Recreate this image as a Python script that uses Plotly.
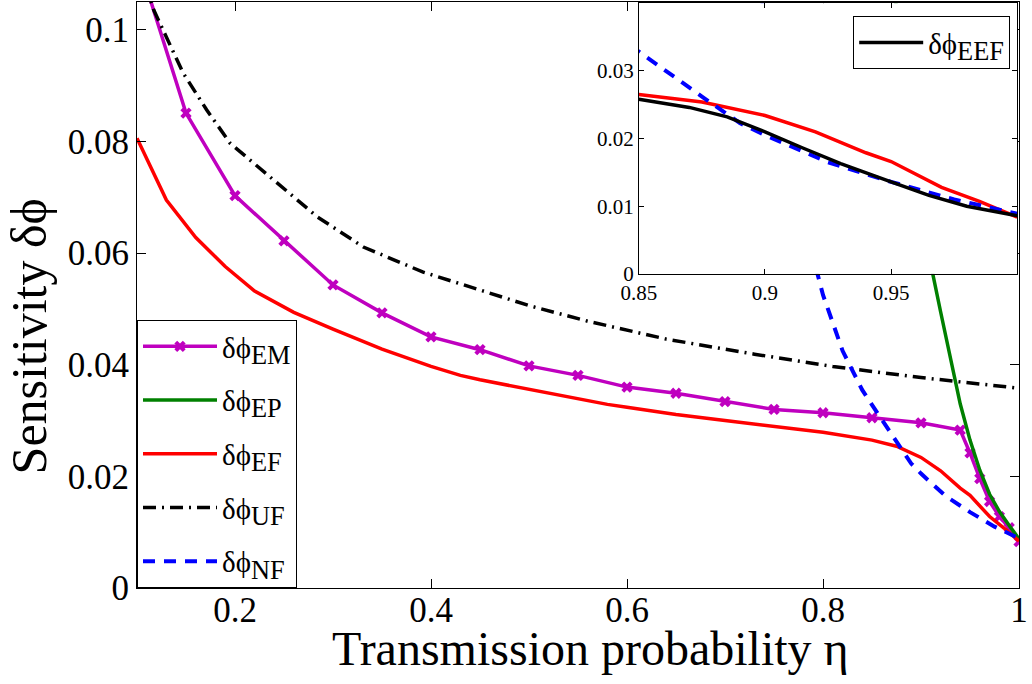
import plotly.graph_objects as go

# ---------------- data ----------------
em_eta = [0.10, 0.15, 0.20, 0.25, 0.30, 0.35, 0.40, 0.45, 0.50, 0.55, 0.60,
          0.65, 0.70, 0.75, 0.80, 0.85, 0.90, 0.94, 0.95, 0.96, 0.97, 0.98, 0.99, 1.00]
em_val = [0.113, 0.0851, 0.0703, 0.0622, 0.0543, 0.0493, 0.0450, 0.0427, 0.0398, 0.0381,
          0.0360, 0.0349, 0.0334, 0.0320, 0.0314, 0.0305, 0.0296, 0.0283, 0.0242, 0.0196,
          0.0155, 0.0128, 0.0108, 0.0083]

ep_eta = [0.86, 0.88, 0.90, 0.91, 0.92, 0.93, 0.94, 0.95, 0.96, 0.97, 0.98, 0.99, 1.00]
ep_val = [0.130, 0.095, 0.068, 0.058, 0.0495, 0.041, 0.033, 0.0265, 0.0211, 0.0168,
          0.0137, 0.0112, 0.0088]

ef_eta = [0.10, 0.13, 0.16, 0.19, 0.22, 0.26, 0.30, 0.35, 0.40, 0.43, 0.45, 0.50,
          0.55, 0.58, 0.60, 0.65, 0.70, 0.75, 0.80, 0.85, 0.875, 0.90, 0.92, 0.94, 0.95,
          0.97, 0.985, 1.00]
ef_val = [0.0806, 0.0695, 0.0628, 0.0576, 0.0532, 0.0494, 0.0464, 0.0428, 0.0397,
          0.0381, 0.0373, 0.0356, 0.0339, 0.0329, 0.0324, 0.0311, 0.0300, 0.0290, 0.0279,
          0.0265, 0.0254, 0.0234, 0.0210, 0.0179, 0.0166, 0.0128, 0.0107, 0.0084]

uf_eta = [0.10, 0.117, 0.147, 0.171, 0.195, 0.239, 0.284, 0.331, 0.392, 0.45, 0.50,
          0.56, 0.64, 0.73, 0.81, 0.90, 0.95, 1.00]
uf_val = [0.113, 0.1036, 0.0923, 0.0857, 0.0797, 0.0731, 0.0665, 0.0611, 0.0566, 0.0534,
          0.0506, 0.0478, 0.0446, 0.0419, 0.0397, 0.0377, 0.0367, 0.0358]

nf_eta = [0.70, 0.72, 0.74, 0.76, 0.78, 0.80, 0.82, 0.84, 0.85, 0.875, 0.89, 0.90,
          0.925, 0.95, 0.975, 1.00]
nf_val = [0.150, 0.125, 0.103, 0.084, 0.066, 0.0525, 0.0425, 0.0355, 0.0328, 0.0262,
          0.0223, 0.0205, 0.0165, 0.0136, 0.0110, 0.0089]

eef_eta = [0.85, 0.87, 0.885, 0.90, 0.915, 0.93, 0.95, 0.965, 0.98, 1.00]
eef_val = [0.0258, 0.0246, 0.0232, 0.0210, 0.0186, 0.0163, 0.0136, 0.0116, 0.0100, 0.0086]

main_xticks = [0.2, 0.4, 0.6, 0.8, 1.0]
main_xtext = ["0.2", "0.4", "0.6", "0.8", "1"]
main_yticks = [0, 0.02, 0.04, 0.06, 0.08, 0.1]
main_ytext = ["0", "0.02", "0.04", "0.06", "0.08", "0.1"]
inset_xticks = [0.85, 0.9, 0.95, 1.0]
inset_xtext = ["0.85", "0.9", "0.95", ""]
inset_yticks = [0, 0.01, 0.02, 0.03, 0.04]
inset_ytext = ["0", "0.01", "0.02", "0.03", ""]

FONT = "Liberation Serif"
MAG = "#BF00BF"
GREEN = "#008000"
RED = "#FF0000"
BLUE = "#0000FF"
PHI = "\u03d5"


def lab(sub):
    return "δ" + PHI + "<sub><span style='font-size:130%'>" + sub + "</span></sub>"


fig = go.Figure()

fig.add_trace(go.Scatter(x=em_eta, y=em_val, mode="lines+markers", name=lab("EM"),
                         line=dict(color=MAG, width=3.5),
                         marker=dict(symbol="x", size=10, color=MAG),
                         legendgroup="a", xaxis="x", yaxis="y"))
fig.add_trace(go.Scatter(x=ep_eta, y=ep_val, mode="lines", name=lab("EP"),
                         line=dict(color=GREEN, width=3.5),
                         legendgroup="b", xaxis="x", yaxis="y"))
fig.add_trace(go.Scatter(x=ef_eta, y=ef_val, mode="lines", name=lab("EF"),
                         line=dict(color=RED, width=3.5),
                         legendgroup="c", xaxis="x", yaxis="y"))
fig.add_trace(go.Scatter(x=uf_eta, y=uf_val, mode="lines", name=lab("UF"),
                         line=dict(color="black", width=3.5, dash="13px,6px,2px,6px"),
                         legendgroup="d", xaxis="x", yaxis="y"))
fig.add_trace(go.Scatter(x=nf_eta, y=nf_val, mode="lines", name=lab("NF"),
                         line=dict(color=BLUE, width=4, dash="12px,9px"),
                         legendgroup="e", xaxis="x", yaxis="y"))

# inset
fig.add_trace(go.Scatter(x=ef_eta, y=ef_val, mode="lines", showlegend=False,
                         line=dict(color=RED, width=3.5), xaxis="x2", yaxis="y2"))
fig.add_trace(go.Scatter(x=nf_eta, y=nf_val, mode="lines", showlegend=False,
                         line=dict(color=BLUE, width=4, dash="12px,9px"),
                         xaxis="x2", yaxis="y2"))
fig.add_trace(go.Scatter(x=eef_eta, y=eef_val, mode="lines", name=lab("EEF"),
                         line=dict(color="black", width=3.5), legend="legend2",
                         xaxis="x2", yaxis="y2"))

axis_common = dict(showgrid=False, zeroline=False, showline=True, linecolor="black",
                   linewidth=1, mirror="ticks", ticks="inside", tickcolor="black")

fig.update_layout(
    width=1032, height=684,
    margin=dict(l=137, r=13, t=2, b=96),
    paper_bgcolor="white", plot_bgcolor="white",
    font=dict(family=FONT, color="black"),
    xaxis=dict(range=[0.1, 1.0], tickvals=main_xticks, ticktext=main_xtext,
               ticklen=9, tickfont=dict(size=35, family=FONT), ticklabelstandoff=-9,
               **axis_common),
    yaxis=dict(range=[0, 0.105], tickvals=main_yticks, ticktext=main_ytext,
               ticklen=9, tickfont=dict(size=35, family=FONT), **axis_common),
    xaxis2=dict(domain=[0.569, 0.998], anchor="y2", range=[0.85, 1.0],
                tickvals=inset_xticks, ticktext=inset_xtext, ticklen=5,
                tickfont=dict(size=21, family=FONT), **axis_common),
    yaxis2=dict(domain=[0.536, 0.998], anchor="x2", range=[0, 0.04],
                tickvals=inset_yticks, ticktext=inset_ytext, ticklen=5,
                tickfont=dict(size=21, family=FONT), **axis_common),
    legend=dict(x=0, y=0, xanchor="left", yanchor="bottom",
                bgcolor="white", bordercolor="black", borderwidth=1,
                font=dict(size=29, family=FONT, color="black"),
                traceorder="grouped", tracegroupgap=13, itemwidth=74),
    legend2=dict(x=0.812, y=0.976, xanchor="left", yanchor="top",
                 bgcolor="white", bordercolor="black", borderwidth=1,
                 font=dict(size=29, family=FONT, color="black"), itemwidth=64),
    annotations=[
        dict(text="Transmission probability η", xref="paper", yref="paper",
             x=0.514, y=-0.104, xanchor="center", yanchor="middle", showarrow=False,
             font=dict(size=48, family=FONT, color="black")),
        dict(text="Sensitivity δ" + PHI, xref="paper", yref="paper",
             x=-0.122, y=0.43, xanchor="center", yanchor="middle", showarrow=False,
             textangle=-90, font=dict(size=50, family=FONT, color="black")),
    ],
    showlegend=True,
    hovermode=False,
)

fig.write_html("out.html", config=dict(displayModeBar=False))
